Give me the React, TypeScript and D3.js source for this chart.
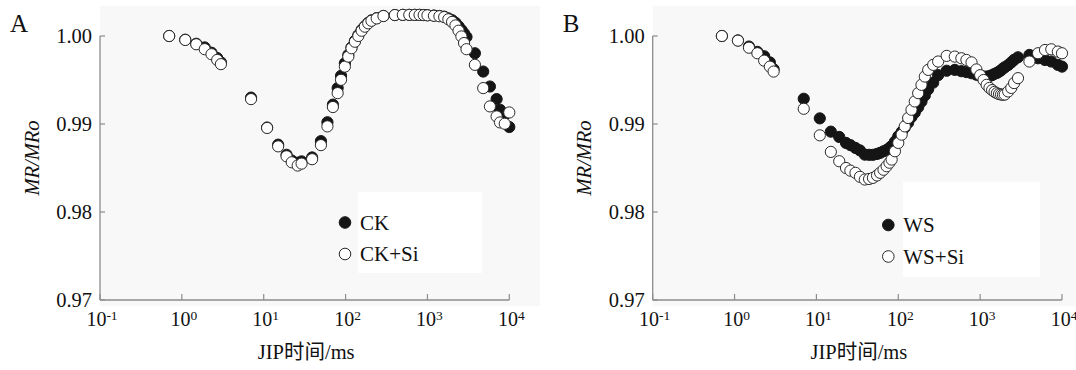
import React from 'react';
import * as d3 from 'd3';

// ---------- Data ----------
const timeA = [
  0.7, 1.1, 1.5, 1.9, 2.3, 2.7, 3.0,
  7, 11, 15, 19, 22, 26, 29, 39,
  50, 60, 70, 80, 88, 98, 108, 118, 130, 143, 157, 172, 189, 207, 240, 290,
  400, 500, 600, 700, 800, 900, 1000, 1200, 1400, 1600, 1800, 2000, 2200, 2400, 2600, 2800, 3000,
  3800, 4800, 5800, 7000, 7700, 8800, 10000,
];
const ckValues = [
  1.0, 0.99958, 0.99912, 0.9987, 0.9981, 0.9975, 0.997,
  0.993, 0.9896, 0.98765, 0.9865, 0.98585, 0.9856, 0.98575, 0.9862,
  0.98805, 0.9902, 0.9922, 0.99408, 0.99547, 0.9969, 0.99785, 0.9987, 0.99945, 1.0001, 1.0007, 1.0011, 1.0015, 1.00178, 1.00203, 1.00228,
  1.00238, 1.0024, 1.0024, 1.0024, 1.0024, 1.00238, 1.00236, 1.00232, 1.00228, 1.0022, 1.002, 1.0018, 1.0015, 1.0011, 1.0007, 1.0003, 0.9999,
  0.99804, 0.99596, 0.99426, 0.99283, 0.99162, 0.99105, 0.98966,
];
const ckSiValues = [
  1.0, 0.99955, 0.99906, 0.9985, 0.99793, 0.99728, 0.9968,
  0.99283, 0.98955, 0.98746, 0.98633, 0.98565, 0.98528, 0.9855, 0.986,
  0.9876, 0.98973, 0.99193, 0.99351, 0.99502, 0.99652, 0.99766, 0.99861, 0.99935, 1.0, 1.0006, 1.00106, 1.00144, 1.00173, 1.002, 1.00227,
  1.00238, 1.0024, 1.0024, 1.0024, 1.0024, 1.00238, 1.00235, 1.0023, 1.00225, 1.00215, 1.0019, 1.0016, 1.0012, 1.0006, 0.99995, 0.9992, 0.9985,
  0.99672, 0.99408, 0.992, 0.99086, 0.99018, 0.99003, 0.99131,
];

const timeB = [
  0.7, 1.1, 1.5, 1.9, 2.3, 2.7, 3.0,
  7, 11, 15, 19, 23, 26, 30, 34, 39, 44, 49, 55, 60, 66, 72, 78, 83, 91,
  100, 110, 120, 132, 145, 159, 175, 192, 211, 232, 267, 307,
  390, 490, 590, 680, 785, 900,
  1000, 1100, 1200, 1300, 1400, 1500, 1600, 1700, 1800, 1900, 2000, 2200, 2400, 2600, 2900,
  4000, 5100, 6200, 7400, 8900, 10000,
];
const wsValues = [
  1.0, 0.9995, 0.9988, 0.9982, 0.9977, 0.997, 0.99622,
  0.99287, 0.99064, 0.98913, 0.98853, 0.98785, 0.9876, 0.98728, 0.987, 0.98652, 0.9865, 0.9865, 0.9866, 0.98672, 0.9869, 0.98705, 0.98728, 0.9875, 0.988,
  0.9886, 0.9891, 0.9896, 0.99015, 0.9908, 0.9913, 0.9919, 0.99255, 0.99325, 0.99395, 0.9947, 0.99555,
  0.99605, 0.99615, 0.996, 0.9959, 0.99577, 0.9956,
  0.99548, 0.9954, 0.99538, 0.99545, 0.99555, 0.9957, 0.9958, 0.99595, 0.9961, 0.9963, 0.99645, 0.9967, 0.997, 0.9973, 0.99758,
  0.99785, 0.99747, 0.99728, 0.9971, 0.99672, 0.99652,
];
const wsSiValues = [
  1.0, 0.99947, 0.99867, 0.99804, 0.9972, 0.99652, 0.99596,
  0.99173, 0.98871, 0.98683, 0.98577, 0.985, 0.9847, 0.98445, 0.984, 0.98369, 0.98375, 0.98388, 0.98415, 0.98445, 0.9848, 0.9852, 0.9856, 0.98596, 0.9869,
  0.98785, 0.98879, 0.98973, 0.99068, 0.99162, 0.99256, 0.99351, 0.99445, 0.99539, 0.99615, 0.99672, 0.9971,
  0.99774, 0.99766, 0.99747, 0.99728, 0.997, 0.9962,
  0.99555, 0.995, 0.99445, 0.9941, 0.99385, 0.99365, 0.9935, 0.9934, 0.99335, 0.99332, 0.99335, 0.9937, 0.9941, 0.99465, 0.99521,
  0.9971, 0.99804, 0.99841, 0.99849, 0.99823, 0.99804,
];

const yTicks = [0.97, 0.98, 0.99, 1.0];
const yTickLabels = ['0.97', '0.98', '0.99', '1.00'];
const xTickExps = [-1, 0, 1, 2, 3, 4];
const xDomain = [0.1, 10000];
const yDomain = [0.97, 1.0];

const serif = '"Liberation Serif", "Times New Roman", "Noto Sans CJK SC", serif';
const axisColor = '#8c8c8c';

type PanelProps = {
  left: number;
  right: number;
  label: string;
  time: number[];
  filled: number[];
  open: number[];
  names: [string, string];
  legend: { cx: number; y1: number; y2: number; tx: number; box: [number, number, number, number] };
  bg: [number, number, number, number];
};

function Panel({ left, right, label, time, filled, open, names, legend, bg }: PanelProps) {
  const top = 36;
  const bottom = 300;
  const x = d3.scaleLog().domain(xDomain).range([left, right]);
  const y = d3.scaleLinear().domain(yDomain).range([bottom, top]);
  const r = 5.6;
  const cx = (left + right) / 2;
  return (
    <g>
      <rect x={bg[0]} y={bg[1]} width={bg[2]} height={bg[3]} fill="#f8f8f8" />
      <rect x={legend.box[0]} y={legend.box[1]} width={legend.box[2]} height={legend.box[3]} fill="#ffffff" />
      {/* axes */}
      <line x1={left} x2={left} y1={top} y2={bottom} stroke={axisColor} strokeWidth={1.3} />
      <line x1={left} x2={right} y1={bottom} y2={bottom} stroke={axisColor} strokeWidth={1.3} />
      {yTicks.map((v, i) => (
        <g key={'y' + i}>
          <line x1={left} x2={left + 5} y1={y(v)} y2={y(v)} stroke={axisColor} strokeWidth={1.2} />
          <text x={left - 8} y={y(v) + 6.8} textAnchor="end" fontFamily={serif} fontSize={20.5} fill="#111">
            {yTickLabels[i]}
          </text>
        </g>
      ))}
      {xTickExps.map((e) => {
        const xv = x(Math.pow(10, e));
        return (
          <g key={'x' + e}>
            <line x1={xv} x2={xv} y1={bottom} y2={bottom - 6} stroke={axisColor} strokeWidth={1.2} />
            <text x={xv + 2} y={bottom + 26} textAnchor="middle" fontFamily={serif} fontSize={20} fill="#111">
              10
              <tspan fontSize={13.5} dy={-6}>{e === -1 ? '-1' : String(e)}</tspan>
            </text>
          </g>
        );
      })}
      {/* titles */}
      <text x={cx + 1.5} y={359} textAnchor="middle" fontFamily={serif} fontSize={20.5} fill="#111">
        JIP时间/ms
      </text>
      <text
        transform={`translate(${left - 61.5},158) rotate(-90)`}
        textAnchor="middle"
        fontFamily={serif}
        fontStyle="italic"
        fontSize={20.5}
        fill="#111"
      >
        MR/MRo
      </text>
      <text x={left - 90} y={31.5} fontFamily={serif} fontSize={25} fill="#111">
        {label}
      </text>
      {/* points */}
      {time.map((t, i) => (
        <circle key={'f' + i} cx={x(t)} cy={y(filled[i])} r={r} fill="#151515" stroke="#151515" strokeWidth={1} />
      ))}
      {time.map((t, i) => (
        <circle key={'o' + i} cx={x(t)} cy={y(open[i])} r={r} fill="#ffffff" stroke="#2a2a2a" strokeWidth={1} />
      ))}
      {/* legend */}
      <circle cx={legend.cx} cy={legend.y1} r={5.8} fill="#151515" stroke="#151515" />
      <text x={legend.tx} y={legend.y1 + 7} fontFamily={serif} fontSize={21} fill="#111">
        {names[0]}
      </text>
      <circle cx={legend.cx} cy={legend.y2} r={5.8} fill="#ffffff" stroke="#2a2a2a" />
      <text x={legend.tx} y={legend.y2 + 7} fontFamily={serif} fontSize={21} fill="#111">
        {names[1]}
      </text>
    </g>
  );
}

export default function App() {
  return (
    <svg
      width={1076}
      height={370}
      style={{ position: 'absolute', left: 0, top: 0, background: '#ffffff' }}
      xmlns="http://www.w3.org/2000/svg"
    >
      <Panel
        left={100}
        right={509.3}
        label="A"
        time={timeA}
        filled={ckValues}
        open={ckSiValues}
        names={['CK', 'CK+Si']}
        legend={{ cx: 345, y1: 222.5, y2: 254, tx: 360, box: [358, 192, 124, 81] }}
        bg={[100, 6, 440, 300]}
      />
      <Panel
        left={652.7}
        right={1062}
        label="B"
        time={timeB}
        filled={wsValues}
        open={wsSiValues}
        names={['WS', 'WS+Si']}
        legend={{ cx: 888.3, y1: 225, y2: 256.5, tx: 903.3, box: [903, 182, 137, 95] }}
        bg={[652.7, 6, 423, 300]}
      />
    </svg>
  );
}
